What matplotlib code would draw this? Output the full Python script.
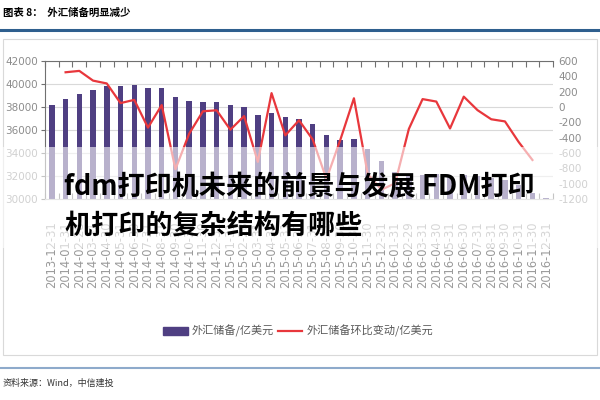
import numpy as np
import matplotlib.pyplot as plt
from matplotlib.patches import Rectangle, Patch
from matplotlib.lines import Line2D

plt.rcParams['font.family'] = ['Noto Sans CJK SC', 'DejaVu Sans']

# month-end dates, 2013-12 .. 2016-12
dates = ["2013-12-31", "2014-01-31", "2014-02-28", "2014-03-31", "2014-04-30", "2014-05-31",
         "2014-06-30", "2014-07-31", "2014-08-31", "2014-09-30", "2014-10-31", "2014-11-30",
         "2014-12-31", "2015-01-31", "2015-02-28", "2015-03-31", "2015-04-30", "2015-05-31",
         "2015-06-30", "2015-07-31", "2015-08-31", "2015-09-30", "2015-10-31", "2015-11-30",
         "2015-12-31", "2016-01-31", "2016-02-29", "2016-03-31", "2016-04-30", "2016-05-31",
         "2016-06-30", "2016-07-31", "2016-08-31", "2016-09-30", "2016-10-31", "2016-11-30",
         "2016-12-31"]

# 外汇储备/亿美元
reserves = [38213, 38666, 39137, 39481, 39788, 39839, 39932, 39663, 39688, 38877, 38529, 38473,
            38430, 38134, 38015, 37300, 37481, 37111, 36938, 36513, 35574, 35141, 35255, 34383,
            33304, 32309, 32023, 32126, 32197, 31917, 32052, 32011, 31851, 31664, 31206, 30516,
            30105]

# 外汇储备环比变动/亿美元 (2014-01 .. 2016-11)
changes = [453, 471, 344, 307, 51, 93, -269, 25, -811, -348, -56, -43,
           -296, -119, -715, 181, -370, -173, -425, -939, -433, 114, -872, -1079,
           -995, -286, 103, 71, -280, 135, -41, -160, -188, -457, -691]

left_ticks = list(range(30000, 42001, 2000))
right_ticks = list(range(-1200, 601, 200))

bar_color = "#4F3F82"
line_color = "#E8373C"
grey = "#8C8C8C"

fig = plt.figure(figsize=(6, 4), dpi=100)
ax = fig.add_axes([0.075, 0.5025, 0.8467, 0.345])
ax2 = ax.twinx()

x = np.arange(len(dates))
ax.bar(x, reserves, width=0.4, color=bar_color, zorder=2)
ax.set_xlim(-0.5, len(dates) - 0.5)
ax.set_ylim(30000, 42000)
ax.set_yticks(left_ticks)
ax.set_yticklabels([str(v) for v in left_ticks], fontsize=7.5, color=grey, family='DejaVu Sans')
ax.yaxis.grid(True, color="#D9D9D9", lw=0.8)
ax.set_axisbelow(True)

ax.set_xticks(x)
ax.set_xticklabels(dates, rotation=90, fontsize=8.3, color="#9A9A9A", family='DejaVu Sans')
ax.tick_params(axis='x', which='major', length=0, pad=16)
ax.set_xticks(np.arange(-0.5, len(dates), 1), minor=True)
ax.tick_params(axis='x', which='minor', top=True, bottom=True, direction='in', length=4,
               color="#707070", width=0.8)
ax.tick_params(axis='y', direction='out', length=3, color="#707070", pad=2)

ax.spines['right'].set_visible(False)
ax.spines['left'].set_color("#707070")
ax.spines['top'].set_color("#707070")
ax.spines['bottom'].set_color("#BFBFBF")

ax2.plot(x[1:len(changes) + 1], changes, color=line_color, lw=1.6)
ax2.set_ylim(-1200, 600)
ax2.set_yticks(right_ticks)
ax2.set_yticklabels([str(v) for v in right_ticks], fontsize=7.5, color=grey, family='DejaVu Sans')
ax2.tick_params(axis='y', length=0, pad=4)
for s in ax2.spines.values():
    s.set_visible(False)

# legend
handles = [Patch(color=bar_color), Line2D([], [], color=line_color, lw=1.6)]
labels = ["外汇储备/亿美元", "外汇储备环比变动/亿美元"]
fig.legend(handles, labels, loc='center', bbox_to_anchor=(0.497, 1 - 331 / 400), ncol=2,
           frameon=False, fontsize=8, labelcolor="#595959", handlelength=2.2,
           handleheight=0.7, columnspacing=0.3, handletextpad=0.4)

# frame, rules and texts around the chart
fig.add_artist(Rectangle((3 / 600, 1 - 355 / 400), 594 / 600, 316 / 400, fill=False,
                         ec="#D9D9D9", lw=0.8, transform=fig.transFigure))
fig.add_artist(Line2D([0, 1], [1 - 30 / 400] * 2, color="#2F5F8E", lw=2.2,
                      transform=fig.transFigure))
fig.add_artist(Line2D([0, 1], [1 - 368 / 400] * 2, color="#8EAACB", lw=1.5,
                      transform=fig.transFigure))
fig.text(3 / 600, 1 - 13 / 400, "图表 8：  外汇储备明显减少", fontsize=7.5, weight='bold',
         va='center', ha='left')
fig.text(3 / 600, 1 - 383 / 400, "资料来源：Wind，中信建投", fontsize=6.5, style='italic',
         va='center', ha='left', color="#333333")

# faded band and watermark text over the chart
fig.add_artist(Rectangle((0, 1 - 248 / 400), 1, 101 / 400, color='white', alpha=0.6,
                         lw=0, transform=fig.transFigure, zorder=5))
fig.text(64 / 600, 1 - 187 / 400, "fdm打印机未来的前景与发展 FDM打印", fontsize=19.5,
         weight='heavy', va='center', ha='left', color='black', zorder=6)
fig.text(64 / 600, 1 - 226 / 400, "机打印的复杂结构有哪些", fontsize=19.5,
         weight='heavy', va='center', ha='left', color='black', zorder=6)

fig.savefig("out.png", dpi=100)
